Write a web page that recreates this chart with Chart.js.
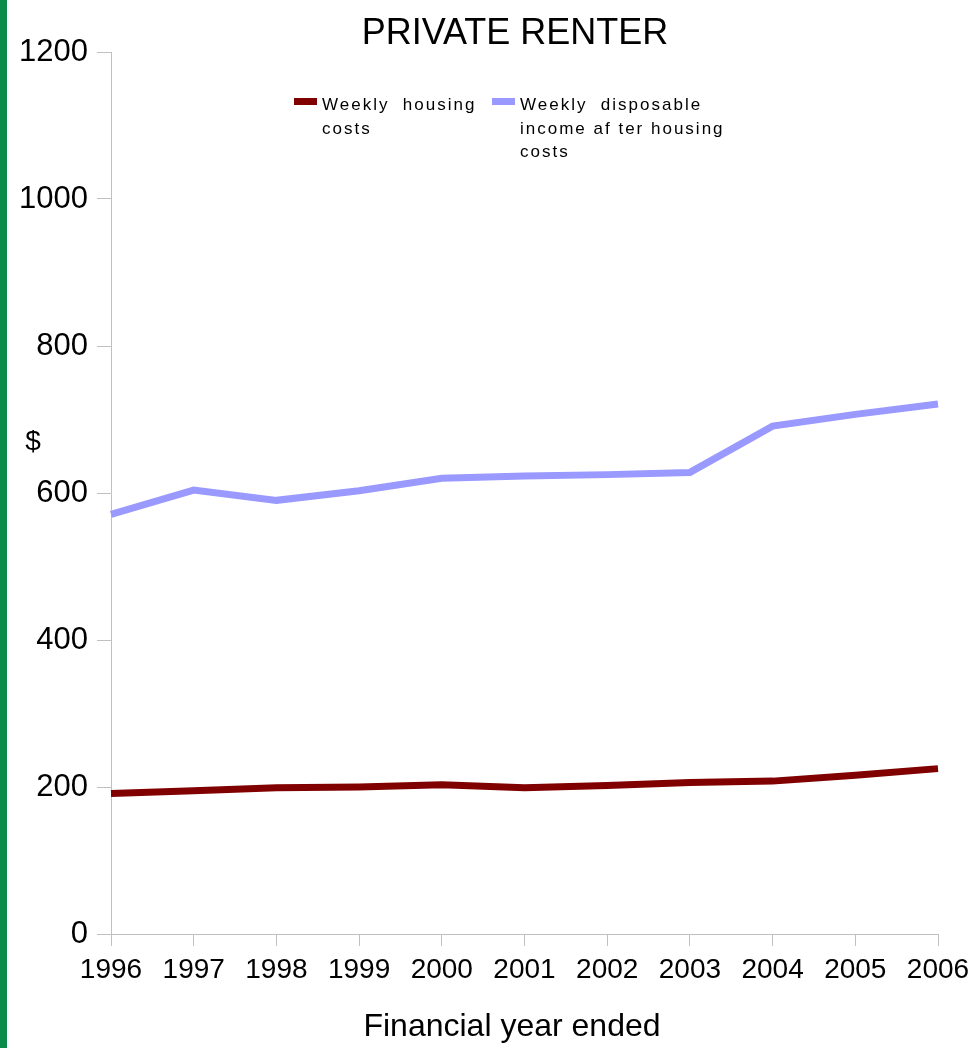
<!DOCTYPE html>
<html>
<head>
<meta charset="utf-8">
<script src="https://cdn.jsdelivr.net/npm/chart.js@4/dist/chart.umd.min.js"></script>
<style>
  html, body { margin: 0; padding: 0; background: #ffffff; }
  #wrap { position: relative; width: 977px; height: 1048px; }
  #bar { position: absolute; left: 0; top: 0; width: 7px; height: 1048px; background: #0a8c4a; }
  canvas { position: absolute; left: 0; top: 0; }
</style>
</head>
<body>
<div id="wrap">
  <canvas id="c" width="977" height="1048"></canvas>
  <div id="bar"></div>
</div>
<script>
const years = ['1996','1997','1998','1999','2000','2001','2002','2003','2004','2005','2006'];
const housingCosts = [191, 195, 199, 200, 203, 199, 202, 206, 208, 216, 225];
const disposableIncome = [571, 604, 590, 603, 620, 623, 625, 628, 691, 707, 721];
const yTicks = [0, 200, 400, 600, 800, 1000, 1200];
const seriesNames = ['Weekly housing costs', 'Weekly disposable income after housing costs'];
const legendLines = [['Weekly  housing', 'costs'], ['Weekly  disposable', 'income af ter housing', 'costs']];
const chartTitle = 'PRIVATE RENTER';
const xTitle = 'Financial year ended';
const yTitle = '$';

const FONT = "'Liberation Sans', Arial, sans-serif";
const AXIS_COLOR = '#c0c0c0';

const textPlugin = {
  id: 'texts',
  afterDraw(chart) {
    const ctx = chart.ctx;
    ctx.save();
    ctx.fillStyle = '#000';
    // title
    ctx.font = '36px ' + FONT;
    ctx.textAlign = 'center';
    ctx.textBaseline = 'alphabetic';
    ctx.fillText(chartTitle, 515, 44);
    // x title
    ctx.font = '32px ' + FONT;
    ctx.fillText(xTitle, 512, 1036);
    // y title
    ctx.font = '28px ' + FONT;
    ctx.fillText(yTitle, 33, 450);
    // legend
    const items = [
      { x: 294, color: chart.data.datasets[0].borderColor, lines: legendLines[0] },
      { x: 492, color: chart.data.datasets[1].borderColor, lines: legendLines[1] }
    ];
    ctx.textAlign = 'left';
    ctx.font = '17px ' + FONT;
    if ('letterSpacing' in ctx) ctx.letterSpacing = '2px';
    items.forEach(it => {
      ctx.fillStyle = it.color;
      ctx.fillRect(it.x, 98, 23, 7);
      ctx.fillStyle = '#000';
      it.lines.forEach((ln, i) => {
        ctx.fillText(ln, it.x + 28, 110 + i * 23.5);
      });
    });
    ctx.restore();
  }
};

new Chart(document.getElementById('c'), {
  type: 'line',
  data: {
    labels: years,
    datasets: [
      { label: seriesNames[0], data: housingCosts, borderColor: '#800000', backgroundColor: '#800000',
        borderWidth: 7, pointRadius: 0, tension: 0, clip: false },
      { label: seriesNames[1], data: disposableIncome, borderColor: '#9999ff', backgroundColor: '#9999ff',
        borderWidth: 7, pointRadius: 0, tension: 0, clip: false }
    ]
  },
  options: {
    responsive: false,
    animation: false,
    events: [],
    layout: { padding: { left: 0, right: 39, top: 52, bottom: 0 } },
    plugins: {
      legend: { display: false },
      title: { display: false },
      tooltip: { enabled: false }
    },
    scales: {
      x: {
        type: 'category',
        offset: false,
        grid: { display: true, drawOnChartArea: false, drawTicks: true, tickLength: 12, color: AXIS_COLOR, lineWidth: 1 },
        border: { display: true, color: AXIS_COLOR, width: 1 },
        ticks: { color: '#000', font: { family: FONT, size: 28 }, padding: 7, maxRotation: 0, autoSkip: false },
        afterFit(scale) { scale.height = 114; }
      },
      y: {
        min: 0, max: 1200,
        afterBuildTicks(scale) { scale.ticks = yTicks.map(v => ({ value: v })); },
        grid: { display: true, drawOnChartArea: false, drawTicks: true, tickLength: 14, color: AXIS_COLOR, lineWidth: 1 },
        border: { display: true, color: AXIS_COLOR, width: 1 },
        ticks: { color: '#000', font: { family: FONT, size: 31 }, padding: 9, callback: v => String(v) },
        afterFit(scale) { scale.width = 111; }
      }
    }
  },
  plugins: [textPlugin]
});
</script>
</body>
</html>
